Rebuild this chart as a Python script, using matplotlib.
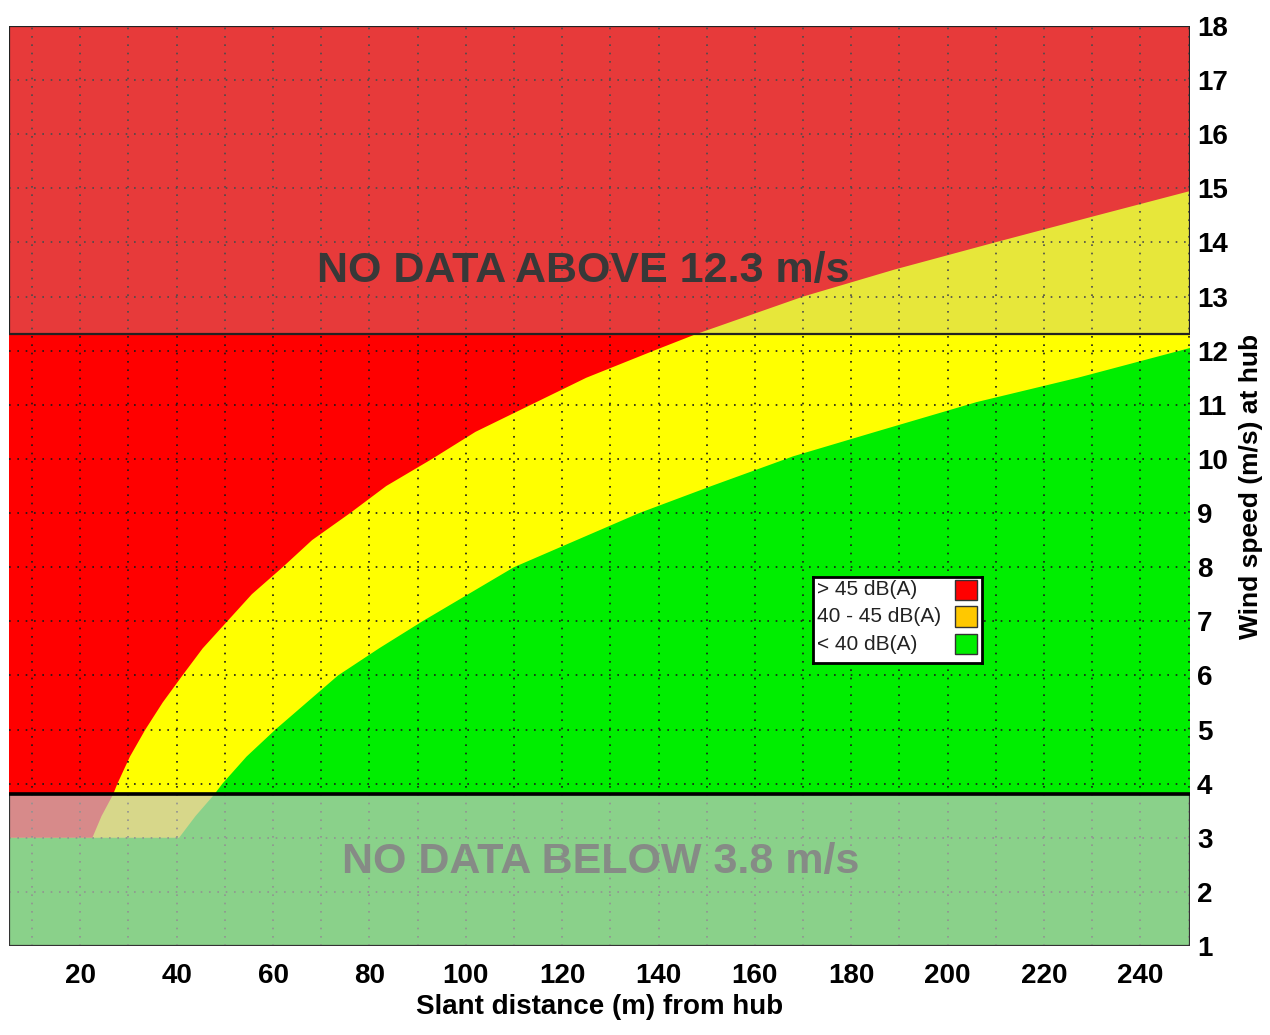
import matplotlib
matplotlib.use("Agg")
import matplotlib.pyplot as plt
from matplotlib.patches import Rectangle

# boundary between > 45 dB(A) and 40-45 dB(A)
red_edge_dist = [22.5, 24.4, 26.8, 27.7, 30.3, 33.5, 37.1, 41.2, 45.4, 50.5, 55.6, 62.0, 68.1,
                 76.0, 83.5, 93.0, 102.0, 113.5, 125.0, 139.0, 147.6, 154.0, 170.0, 189.0,
                 209.8, 231.0, 250.3]
red_edge_ws = [3.0, 3.4, 3.8, 4.0, 4.5, 5.0, 5.5, 6.0, 6.5, 7.0, 7.5, 8.0, 8.5,
               9.0, 9.5, 10.0, 10.5, 11.0, 11.5, 12.0, 12.3, 12.5, 13.0, 13.5,
               14.0, 14.5, 14.95]

# boundary between 40-45 dB(A) and < 40 dB(A)
green_edge_dist = [40.5, 43.9, 47.8, 49.5, 54.5, 60.5, 67.0, 73.5, 82.0, 91.0, 100.5, 110.0,
                   123.0, 136.0, 151.0, 168.0, 185.0, 206.0, 227.0, 250.3]
green_edge_ws = [3.0, 3.4, 3.8, 4.0, 4.5, 5.0, 5.5, 6.0, 6.5, 7.0, 7.5, 8.0,
                 8.5, 9.0, 9.5, 10.05, 10.5, 11.05, 11.5, 12.05]

legend_labels = ["> 45 dB(A)", "40 - 45 dB(A)", "< 40 dB(A)"]
legend_colors = ["#ff0000", "#ffc800", "#00ee00"]

data_min_ws = 3.0
no_data_above = 12.3
no_data_below = 3.8
x_ticks = list(range(20, 241, 20))
y_ticks = list(range(1, 19))

XMIN, XMAX = 5.2, 250.3
YMIN, YMAX = 1, 18

RED, YELLOW, GREEN = "#ff0000", "#ffff00", "#00ee00"
narrow = ["Liberation Sans Narrow", "DejaVu Sans Condensed", "Liberation Sans"]
plain = ["Liberation Sans", "DejaVu Sans"]

fig = plt.figure(figsize=(12.7, 10.35), dpi=100)
ax = fig.add_axes([9 / 1270, 1 - 946 / 1035, 1181 / 1270, 920 / 1035])
ax.set_xlim(XMIN, XMAX)
ax.set_ylim(YMIN, YMAX)
ax.set_facecolor(GREEN)

# yellow: everything above the green edge
yel = [(XMIN, data_min_ws)] + list(zip(green_edge_dist, green_edge_ws)) + [(XMAX, YMAX), (XMIN, YMAX)]
ax.fill(*zip(*yel), color=YELLOW, lw=0, zorder=1)
# red: everything above the red edge
red = [(XMIN, data_min_ws)] + list(zip(red_edge_dist, red_edge_ws)) + [(XMAX, YMAX), (XMIN, YMAX)]
ax.fill(*zip(*red), color=RED, lw=0, zorder=2)

# dotted grid
for xv in range(10, 251, 10):
    ax.axvline(xv, color="#1a1a1a", lw=1.2, ls=(0, (1, 4)), zorder=3)
for yv in y_ticks:
    ax.axhline(yv, color="#1a1a1a", lw=1.2, ls=(0, (1, 4)), zorder=3)

# no-data overlays
ax.add_patch(Rectangle((XMIN, no_data_above), XMAX - XMIN, YMAX - no_data_above,
                       facecolor="#b6b6b6", alpha=0.32, lw=0, zorder=4))
ax.add_patch(Rectangle((XMIN, no_data_above), XMAX - XMIN, YMAX - no_data_above,
                       facecolor="none", edgecolor="#222222", lw=1.6, zorder=5))
ax.add_patch(Rectangle((XMIN, YMIN), XMAX - XMIN, no_data_below - YMIN,
                       facecolor="#c6c6c6", alpha=0.7, lw=0, zorder=4))
ax.add_patch(Rectangle((XMIN, YMIN), XMAX - XMIN, no_data_below - YMIN,
                       facecolor="none", edgecolor="#333333", lw=1.6, zorder=5))
ax.plot([XMIN, XMAX], [no_data_below, no_data_below], color="black", lw=2.6, zorder=6)

ax.text(124.4, 13.47, f"NO DATA ABOVE {no_data_above} m/s", ha="center", va="center",
        fontsize=31, fontweight="bold", family=narrow, color="#383838", zorder=7)
ax.text(128, 2.55, f"NO DATA BELOW {no_data_below} m/s", ha="center", va="center",
        fontsize=31, fontweight="bold", family=narrow, color="#868b86", zorder=7)

for s in ax.spines.values():
    s.set_visible(False)

ax.set_xticks(x_ticks)
ax.set_yticks(y_ticks)
ax.yaxis.tick_right()
ax.yaxis.set_label_position("right")
ax.tick_params(axis="both", length=0, labelsize=20)
ax.tick_params(axis="x", pad=12)
ax.tick_params(axis="y", pad=5)
for lab in ax.get_xticklabels() + ax.get_yticklabels():
    lab.set_fontweight("bold")
    lab.set_family(narrow)

ax.set_xlabel("Slant distance (m) from hub", fontsize=20, fontweight="bold",
              family=narrow, labelpad=4)
ax.set_ylabel("Wind speed (m/s) at hub", fontsize=19, fontweight="bold",
              family=plain, labelpad=8)

# legend box
lax = fig.add_axes([813 / 1270, 1 - 663 / 1035, 169 / 1270, 86 / 1035])
lax.set_xlim(0, 1)
lax.set_ylim(0, 1)
lax.set_xticks([])
lax.set_yticks([])
for s in lax.spines.values():
    s.set_linewidth(2)
    s.set_color("black")
rows = [0.85, 0.54, 0.22]
for yr, lbl, col in zip(rows, legend_labels, legend_colors):
    lax.text(0.024, yr, lbl, ha="left", va="center", fontsize=15,
             family=plain, color="#222222")
    lax.add_patch(Rectangle((0.84, yr - 0.12), 0.13, 0.24, facecolor=col,
                            edgecolor="#333333", lw=1))

fig.savefig("out.png", dpi=100)
